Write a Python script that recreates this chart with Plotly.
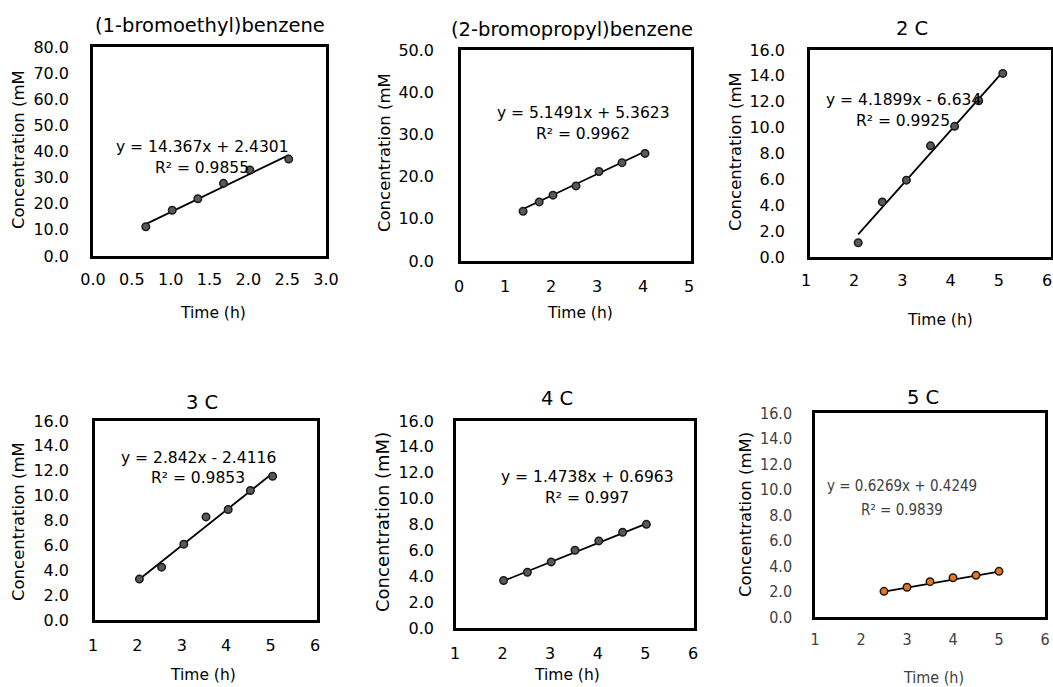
import plotly.graph_objects as go

W, H = 1053, 687

# ---- data -------------------------------------------------------------
titles = ["(1-bromoethyl)benzene", "(2-bromopropyl)benzene", "2 C", "3 C", "4 C", "5 C"]
y_titles = ["Concentration (mM", "Concentration (mM", "Concentration (mM",
            "Concentration (mM", "Concentration (mM)", "Concentration (mM)"]

t_bromoethyl = [0.68, 1.02, 1.35, 1.68, 2.02, 2.52]
c_bromoethyl = [11.2, 17.5, 21.9, 27.8, 32.9, 37.1]

t_bromopropyl = [1.35, 1.7, 2.0, 2.5, 3.0, 3.5, 4.0]
c_bromopropyl = [11.8, 14.0, 15.6, 17.8, 21.2, 23.3, 25.5]

t_2c = [2.0, 2.5, 3.0, 3.5, 4.0, 4.5, 5.0]
c_2c = [1.1, 4.26, 5.94, 8.59, 10.1, 12.08, 14.19]

t_3c = [2.0, 2.5, 3.0, 3.5, 4.0, 4.5, 5.0]
c_3c = [3.29, 4.25, 6.1, 8.29, 8.88, 10.41, 11.56]

t_4c = [2.0, 2.5, 3.0, 3.5, 4.0, 4.5, 5.0]
c_4c = [3.67, 4.31, 5.11, 6.01, 6.73, 7.40, 8.01]

t_5c = [2.5, 3.0, 3.5, 4.0, 4.5, 5.0]
c_5c = [2.01, 2.33, 2.77, 3.08, 3.27, 3.58]

# linear fits (slope, intercept, R²)
slopes = [14.367, 5.1491, 4.1899, 2.842, 1.4738, 0.6269]
intercepts = [2.4301, 5.3623, -6.634, -2.4116, 0.6963, 0.4249]
r_squared = ["0.9855", "0.9962", "0.9925", "0.9853", "0.997", "0.9839"]

x_ranges = [[0, 3], [0, 5], [1, 6], [1, 6], [1, 6], [1, 6]]
x_ticks = [[0, 0.5, 1, 1.5, 2, 2.5, 3], [0, 1, 2, 3, 4, 5],
           [1, 2, 3, 4, 5, 6], [1, 2, 3, 4, 5, 6], [1, 2, 3, 4, 5, 6], [1, 2, 3, 4, 5, 6]]
x_fmt = [".1f", "d", "d", "d", "d", "d"]
y_ranges = [[0, 80], [0, 50], [0, 16], [0, 16], [0, 16], [0, 16]]
y_dticks = [10, 10, 2, 2, 2, 2]

series_t = [t_bromoethyl, t_bromopropyl, t_2c, t_3c, t_4c, t_5c]
series_c = [c_bromoethyl, c_bromopropyl, c_2c, c_3c, c_4c, c_5c]

# ---- layout geometry (pixels) ------------------------------------------
# plot box: left, right, top, bottom
boxes = [(93, 326, 47, 256), (461, 691, 50, 261), (810, 1051, 50, 257),
         (95, 317, 421, 620), (456, 694, 421, 628), (815, 1045, 413, 617)]
title_pos = [(210, 25), (572, 30), (912, 28), (202, 402), (557, 398), (923, 397)]
xtitle_pos = [(213, 313), (580, 313), (940, 320), (203, 675), (567, 675), (933, 677)]
ytitle_pos = [(18, 150), (385, 153), (735, 152), (18, 522), (382, 522), (745, 515)]
eq_pos = [((202, 147), (202, 168)), ((583, 113), (583, 134)), ((903, 100), (903, 121)),
          ((198, 458), (198, 478)), ((587, 477), (587, 498)), ((902, 486), (902, 510))]
ylab_gap = [18, 21, 19, 20, 16, 17]
xlab_gap = [7, 9, 7, 9, 9, 6]
xlab_shift = [0, -2, -4, -2, -1, 0]

FONT = "DejaVu Sans"
COND = "DejaVu Sans Condensed"
marker_fill = ["#595959"] * 5 + ["#e8761e"]

fig = go.Figure()
annotations = []


def px(x):
    return x / W


def py(y):
    return 1 - y / H


for i in range(6):
    ax = "" if i == 0 else str(i + 1)
    l, r, t, b = boxes[i]
    cond = i == 5
    tick_font = dict(family=COND if cond else FONT, size=16,
                     color="#404040" if cond else "#000000")

    fig.update_layout(**{
        f"xaxis{ax}": dict(
            domain=[px(l), px(r)], range=x_ranges[i], anchor=f"y{ax}", automargin=False,
            tickmode="array", tickvals=x_ticks[i],
            ticktext=[format(v, x_fmt[i]) for v in x_ticks[i]],
            ticklabeloverflow="allow", ticklabelshift=xlab_shift[i],
            showgrid=False, zeroline=False, showline=True, mirror=True,
            linecolor="#000000", linewidth=2.5,
            ticks="outside", ticklen=xlab_gap[i], tickcolor="rgba(0,0,0,0)",
            tickfont=tick_font, fixedrange=True),
        f"yaxis{ax}": dict(
            domain=[py(b), py(t)], range=y_ranges[i], anchor=f"x{ax}", automargin=False,
            dtick=y_dticks[i], tick0=0, tickformat=".1f",
            showgrid=False, zeroline=False, showline=True, mirror=True,
            linecolor="#000000", linewidth=2.5,
            ticks="outside", ticklen=ylab_gap[i], tickcolor="rgba(0,0,0,0)",
            tickfont=tick_font, fixedrange=True),
    })

    # trendline from the fitted equation over the measured time span
    x0, x1 = min(series_t[i]), max(series_t[i])
    fig.add_trace(go.Scatter(
        x=[x0, x1], y=[slopes[i] * x0 + intercepts[i], slopes[i] * x1 + intercepts[i]],
        mode="lines", line=dict(color="#000000", width=1.8),
        xaxis=f"x{ax}", yaxis=f"y{ax}", showlegend=False, hoverinfo="skip"))

    fig.add_trace(go.Scatter(
        x=series_t[i], y=series_c[i], mode="markers",
        marker=dict(size=7.5, color=marker_fill[i], line=dict(color="#1a1a1a", width=1.5)),
        xaxis=f"x{ax}", yaxis=f"y{ax}", showlegend=False))

    # panel title
    annotations.append(dict(x=px(title_pos[i][0]), y=py(title_pos[i][1]), xref="paper", yref="paper",
                            text=titles[i], showarrow=False, xanchor="center", yanchor="middle",
                            font=dict(family=FONT, size=19.5, color="#000000")))
    # axis titles
    annotations.append(dict(x=px(xtitle_pos[i][0]), y=py(xtitle_pos[i][1]), xref="paper", yref="paper",
                            text="Time (h)", showarrow=False, xanchor="center", yanchor="middle",
                            font=dict(family=COND if cond else FONT, size=16 if cond else 15.5,
                                      color="#404040" if cond else "#000000")))
    annotations.append(dict(x=px(ytitle_pos[i][0]), y=py(ytitle_pos[i][1]), xref="paper", yref="paper",
                            text=y_titles[i], showarrow=False, xanchor="center", yanchor="middle",
                            textangle=-90,
                            font=dict(family=FONT, size=18 if i == 4 else 16.5, color="#000000")))
    # fit equation and R²
    sign = "+" if intercepts[i] >= 0 else "-"
    eq = f"y = {slopes[i]:g}x {sign} {abs(intercepts[i]):g}"
    eq_font = dict(family=COND if cond else FONT, size=15 if cond else 15.5,
                   color="#404040" if cond else "#000000")
    (ex1, ey1), (ex2, ey2) = eq_pos[i]
    annotations.append(dict(x=px(ex1), y=py(ey1), xref="paper", yref="paper", text=eq,
                            showarrow=False, xanchor="center", yanchor="middle", font=eq_font))
    annotations.append(dict(x=px(ex2), y=py(ey2), xref="paper", yref="paper",
                            text=f"R² = {r_squared[i]}", showarrow=False,
                            xanchor="center", yanchor="middle", font=eq_font))

fig.update_layout(
    width=W, height=H, margin=dict(l=0, r=0, t=0, b=0),
    paper_bgcolor="#ffffff", plot_bgcolor="#ffffff",
    annotations=annotations, showlegend=False,
)

fig.write_html("out.html", config={"displayModeBar": False})
